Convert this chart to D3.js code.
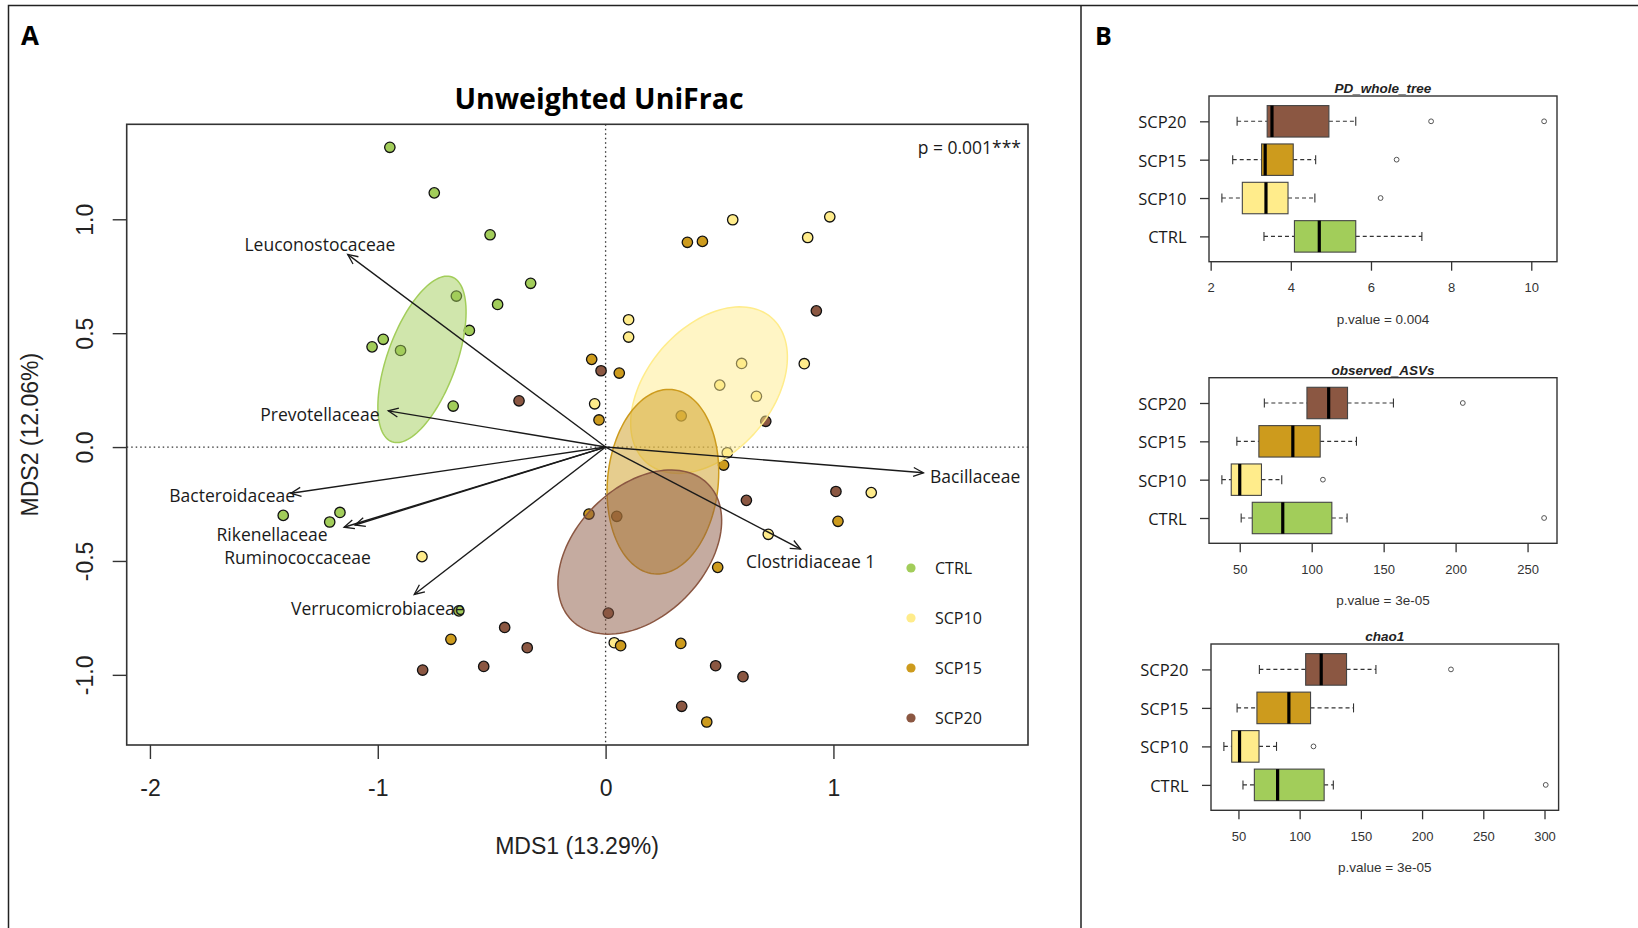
<!DOCTYPE html>
<html>
<head>
  <meta charset="utf-8">
  <title>Unweighted UniFrac</title>
  <style>
    body { margin: 0; background: #fff; }
    svg { display: block; }
  </style>
</head>
<body>
  <svg id="fig"></svg>

  <script src="https://cdn.jsdelivr.net/npm/d3@7"></script>
  <script>
    // ---------- data ----------
    const groups = ["CTRL", "SCP10", "SCP15", "SCP20"];
    const groupColors = ["#A2CD5A", "#FFEC8B", "#CD9B1D", "#8B5742"];

    // NMDS scores [MDS1, MDS2]
    const ctrlPts = [[-0.947, 1.316], [-0.752, 1.116], [-0.507, 0.932], [-0.329, 0.719], [-0.474, 0.626],
      [-0.655, 0.663], [-0.598, 0.512], [-0.976, 0.473], [-1.025, 0.440], [-0.900, 0.424],
      [-0.669, 0.180], [-1.415, -0.300], [-1.166, -0.287], [-1.211, -0.329], [-0.644, -0.719]];
    const scp10Pts = [[0.558, 0.998], [0.984, 1.011], [0.887, 0.920], [0.101, 0.559], [0.101, 0.483],
      [0.597, 0.367], [0.872, 0.366], [0.501, 0.272], [0.662, 0.223], [-0.048, 0.190],
      [-0.806, -0.481], [0.534, -0.025], [1.166, -0.200], [0.714, -0.383], [0.038, -0.859]];
    const scp15Pts = [[0.359, 0.899], [0.425, 0.903], [-0.061, 0.385], [0.060, 0.325], [-0.029, 0.119],
      [0.332, 0.137], [-0.679, -0.844], [0.518, -0.079], [-0.073, -0.294], [1.020, -0.326],
      [0.492, -0.528], [0.066, -0.872], [0.330, -0.862], [0.444, -1.207]];
    const scp20Pts = [[-0.380, 0.203], [-0.020, 0.335], [0.925, 0.598], [0.703, 0.113], [-0.443, -0.792],
      [-0.344, -0.881], [-0.535, -0.963], [-0.803, -0.979], [1.011, -0.195], [0.618, -0.234],
      [0.049, -0.304], [0.012, -0.729], [0.483, -0.960], [0.603, -1.008], [0.334, -1.138]];
    const groupPts = [ctrlPts, scp10Pts, scp15Pts, scp20Pts];

    // group ellipses: centre MDS1, centre MDS2, semi-axis a, semi-axis b, angle (deg)
    const ellipses = [[-0.806, 0.385, 0.385, 0.151, 70],
                      [0.454, 0.250, 0.420, 0.275, 49.4],
                      [0.2515, -0.152, 0.4065, 0.243, 84.4],
                      [0.150, -0.461, 0.423, 0.283, 45.2]];

    // fitted taxa vectors
    const taxa = ["Leuconostocaceae", "Prevotellaceae", "Bacteroidaceae", "Rikenellaceae",
                  "Ruminococcaceae", "Verrucomicrobiaceae", "Bacillaceae", "Clostridiaceae 1"];
    const vecMDS1 = [-1.132, -0.954, -1.381, -1.148, -1.100, -0.840, 1.395, 0.856];
    const vecMDS2 = [0.846, 0.159, -0.203, -0.352, -0.342, -0.647, -0.113, -0.448];
    const labMDS1 = [-1.254, -1.254, -1.639, -1.464, -1.352, -1.000, 1.622, 0.900];
    const labMDS2 = [0.891, 0.145, -0.211, -0.383, -0.484, -0.707, -0.127, -0.500];

    const mdsXTicks = [-2, -1, 0, 1];
    const mdsYTicks = [-1, -0.5, 0, 0.5, 1];

    // alpha diversity: [lower whisker, Q1, median, Q3, upper whisker] for CTRL, SCP10, SCP15, SCP20
    const pdStats = [[3.33, 4.09, 4.71, 5.62, 7.27], [2.28, 2.79, 3.38, 3.93, 4.60],
                     [2.55, 3.27, 3.36, 4.06, 4.62], [2.66, 3.41, 3.53, 4.95, 5.62]];
    const pdOut = [[], [6.24], [6.64], [7.50, 10.32]];
    const obsStats = [[51, 58.7, 79.9, 114, 124.6], [37.6, 44.1, 50, 65.1, 79.2],
                      [48, 63.3, 86.9, 105.9, 131.1], [67.1, 96.7, 111.8, 124.9, 156.8]];
    const obsOut = [[261.5], [107.8], [], [205]];
    const chaoStats = [[53.7, 63, 82, 120, 127.5], [38.1, 44.5, 50.9, 66.8, 81.1],
                       [48.9, 65.1, 91.2, 108.9, 144], [67.1, 104.9, 117.6, 138.3, 162.3]];
    const chaoOut = [[301], [111.3], [], [223.6]];

    const pdTicks = [2, 4, 6, 8, 10];
    const obsTicks = [50, 100, 150, 200, 250];
    const chaoTicks = [50, 100, 150, 200, 250, 300];

    // ---------- figure ----------
    const W = 1638, H = 928;
    const ARIAL = "'Liberation Sans', Arial, sans-serif";
    const SANS = "'Open Sans', sans-serif";

    const svg = d3.select("#fig").attr("width", W).attr("height", H);

    // panel frames
    svg.append("path")
      .attr("d", `M8.5,${H} V5.5 H${W} M1081,5.5 V${H}`)
      .attr("fill", "none").attr("stroke", "#222").attr("stroke-width", 1.5);

    svg.append("text").attr("x", 21).attr("y", 45).text("A")
      .attr("font-family", SANS).attr("font-weight", 700).attr("font-size", 26);
    svg.append("text").attr("x", 1095).attr("y", 45).text("B")
      .attr("font-family", SANS).attr("font-weight", 700).attr("font-size", 25);

    // ---------- panel A: ordination ----------
    const ordination = (function () {
      const left = 126.7, right = 1028, top = 124.3, bottom = 745;
      const x = d3.scaleLinear().domain([-2.102, 1.854]).range([left, right]);
      const y = d3.scaleLinear().domain([-1.308, 1.417]).range([bottom, top]);
      let g;

      function draw() {
        g = svg.append("g");

        // zero lines
        g.append("line").attr("x1", x(0)).attr("x2", x(0)).attr("y1", top).attr("y2", bottom)
          .attr("stroke", "#333").attr("stroke-width", 1.3).attr("stroke-dasharray", "1.5,3");
        g.append("line").attr("x1", left).attr("x2", right).attr("y1", y(0)).attr("y2", y(0))
          .attr("stroke", "#333").attr("stroke-width", 1.3).attr("stroke-dasharray", "1.5,3");

        // points
        groups.forEach((grp, i) => {
          g.append("g").selectAll("circle")
            .data(groupPts[i])
            .join("circle")
            .attr("cx", d => x(d[0]))
            .attr("cy", d => y(d[1]))
            .attr("r", 5.2)
            .attr("fill", groupColors[i])
            .attr("stroke", "#111")
            .attr("stroke-width", 1.3);
        });

        // ellipses on top of the points
        const ell = d3.line().x(d => x(d[0])).y(d => y(d[1])).curve(d3.curveLinearClosed);
        ellipses.forEach((e, i) => {
          const [cx, cy, a, b, deg] = e;
          const t = deg * Math.PI / 180;
          const pts = d3.range(0, 360, 3).map(k => {
            const u = k * Math.PI / 180;
            return [cx + a * Math.cos(u) * Math.cos(t) - b * Math.sin(u) * Math.sin(t),
                    cy + a * Math.cos(u) * Math.sin(t) + b * Math.sin(u) * Math.cos(t)];
          });
          g.append("path").attr("d", ell(pts))
            .attr("fill", groupColors[i]).attr("fill-opacity", 0.5)
            .attr("stroke", groupColors[i]).attr("stroke-width", 1.5);
        });

        // taxa vectors
        svg.append("defs").append("marker")
          .attr("id", "head").attr("viewBox", "-12 -6 14 12")
          .attr("markerUnits", "userSpaceOnUse")
          .attr("markerWidth", 14).attr("markerHeight", 12)
          .attr("refX", 0).attr("refY", 0).attr("orient", "auto")
          .append("path").attr("d", "M-10,-4.5 L0,0 L-10,4.5")
          .attr("fill", "none").attr("stroke", "#1a1a1a").attr("stroke-width", 1.3);

        g.append("g").selectAll("line")
          .data(taxa)
          .join("line")
          .attr("x1", x(0)).attr("y1", y(0))
          .attr("x2", (d, i) => x(vecMDS1[i]))
          .attr("y2", (d, i) => y(vecMDS2[i]))
          .attr("stroke", "#1a1a1a").attr("stroke-width", 1.4)
          .attr("marker-end", "url(#head)");

        g.append("g").selectAll("text")
          .data(taxa)
          .join("text")
          .attr("x", (d, i) => x(labMDS1[i]))
          .attr("y", (d, i) => y(labMDS2[i]))
          .attr("text-anchor", "middle")
          .attr("dominant-baseline", "central")
          .attr("font-family", SANS).attr("font-size", 17.5).attr("fill", "#1a1a1a")
          .text(d => d);

        // plot box
        g.append("rect").attr("x", left).attr("y", top)
          .attr("width", right - left).attr("height", bottom - top)
          .attr("fill", "none").attr("stroke", "#333").attr("stroke-width", 1.6);

        // axes
        const xAxis = g.append("g").attr("transform", `translate(0,${bottom})`)
          .call(d3.axisBottom(x).tickValues(mdsXTicks).tickSize(14).tickFormat(d => String(d)));
        const yAxis = g.append("g").attr("transform", `translate(${left},0)`)
          .call(d3.axisLeft(y).tickValues(mdsYTicks).tickSize(14).tickFormat(d => d.toFixed(1)));
        [xAxis, yAxis].forEach(a => {
          a.select(".domain").remove();
          a.selectAll("line").attr("stroke", "#333").attr("stroke-width", 1.4);
          a.selectAll("text").attr("font-family", ARIAL).attr("font-size", 23).attr("fill", "#222");
        });
        xAxis.selectAll("text").attr("y", 43).attr("dy", null).attr("dominant-baseline", "central");
        yAxis.selectAll("text")
          .attr("x", 0).attr("y", -42).attr("dy", null)
          .attr("transform", "rotate(-90)")
          .attr("text-anchor", "middle").attr("dominant-baseline", "central");

        g.append("text").attr("x", 577).attr("y", 846)
          .attr("text-anchor", "middle").attr("dominant-baseline", "central")
          .attr("font-family", ARIAL).attr("font-size", 23).attr("fill", "#222")
          .text("MDS1 (13.29%)");
        g.append("text")
          .attr("transform", `translate(30,${(top + bottom) / 2}) rotate(-90)`)
          .attr("text-anchor", "middle").attr("dominant-baseline", "central")
          .attr("font-family", ARIAL).attr("font-size", 23).attr("fill", "#222")
          .text("MDS2 (12.06%)");

        // title and test result
        g.append("text").attr("x", 599).attr("y", 109)
          .attr("text-anchor", "middle")
          .attr("font-family", SANS).attr("font-weight", 700).attr("font-size", 28.5)
          .text("Unweighted UniFrac");
        g.append("text").attr("x", 1021).attr("y", 147)
          .attr("text-anchor", "end").attr("dominant-baseline", "central")
          .attr("font-family", SANS).attr("font-size", 17.5).attr("fill", "#1a1a1a")
          .text("p = 0.001***");

        // legend
        const legend = g.append("g").selectAll("g")
          .data(groups)
          .join("g")
          .attr("transform", (d, i) => `translate(911,${568 + i * 50})`);
        legend.append("circle").attr("r", 4.6).attr("fill", (d, i) => groupColors[i]);
        legend.append("text").attr("x", 24).attr("dominant-baseline", "central")
          .attr("font-family", SANS).attr("font-size", 16).attr("fill", "#1a1a1a")
          .text(d => d);
      }

      return { draw };
    })();

    // ---------- panel B: alpha diversity boxplots ----------
    function boxplot(cfg) {
      const { title, stats, outliers, ticks, pval, left, right, top, bottom } = cfg;
      const g = svg.append("g");

      const all = stats.flat().concat(outliers.flat());
      const [lo, hi] = d3.extent(all);
      const pad = (hi - lo) * 0.04;
      const x = d3.scaleLinear().domain([lo - pad, hi + pad]).range([left, right]);
      const y = d3.scaleLinear().domain([0.34, 4.66]).range([bottom, top]);
      const half = 0.41;

      stats.forEach((s, i) => {
        const pos = i + 1;
        const yc = y(pos);
        const color = groupColors[i];
        // whiskers
        g.append("line").attr("x1", x(s[0])).attr("x2", x(s[1])).attr("y1", yc).attr("y2", yc)
          .attr("stroke", "#333").attr("stroke-width", 1.1).attr("stroke-dasharray", "4,3");
        g.append("line").attr("x1", x(s[3])).attr("x2", x(s[4])).attr("y1", yc).attr("y2", yc)
          .attr("stroke", "#333").attr("stroke-width", 1.1).attr("stroke-dasharray", "4,3");
        [s[0], s[4]].forEach(v => {
          g.append("line").attr("x1", x(v)).attr("x2", x(v)).attr("y1", yc - 4.5).attr("y2", yc + 4.5)
            .attr("stroke", "#333").attr("stroke-width", 1.1);
        });
        // box
        g.append("rect")
          .attr("x", x(s[1])).attr("width", x(s[3]) - x(s[1]))
          .attr("y", y(pos + half)).attr("height", y(pos - half) - y(pos + half))
          .attr("fill", color).attr("stroke", "#444").attr("stroke-width", 1.1);
        // median
        g.append("line").attr("x1", x(s[2])).attr("x2", x(s[2]))
          .attr("y1", y(pos + half)).attr("y2", y(pos - half))
          .attr("stroke", "#000").attr("stroke-width", 3.2);
        // outliers
        g.append("g").selectAll("circle")
          .data(outliers[i])
          .join("circle")
          .attr("cx", d => x(d)).attr("cy", yc).attr("r", 2.4)
          .attr("fill", "none").attr("stroke", "#555").attr("stroke-width", 1);
      });

      g.append("rect").attr("x", left).attr("y", top)
        .attr("width", right - left).attr("height", bottom - top)
        .attr("fill", "none").attr("stroke", "#333").attr("stroke-width", 1.4);

      const xAxis = g.append("g").attr("transform", `translate(0,${bottom})`)
        .call(d3.axisBottom(x).tickValues(ticks).tickSize(9).tickFormat(d => String(d)));
      const yAxis = g.append("g").attr("transform", `translate(${left},0)`)
        .call(d3.axisLeft(y).tickValues([1, 2, 3, 4]).tickSize(9).tickFormat(d => groups[d - 1]));
      [xAxis, yAxis].forEach(a => {
        a.select(".domain").remove();
        a.selectAll("line").attr("stroke", "#333").attr("stroke-width", 1.3);
      });
      xAxis.selectAll("text")
        .attr("y", 26).attr("dy", null).attr("dominant-baseline", "central")
        .attr("font-family", ARIAL).attr("font-size", 13).attr("fill", "#333");
      yAxis.selectAll("text")
        .attr("x", -22.5).attr("dy", null).attr("dominant-baseline", "central")
        .attr("font-family", SANS).attr("font-size", 16.5).attr("fill", "#1a1a1a");

      g.append("text").attr("x", (left + right) / 2).attr("y", top - 3)
        .attr("text-anchor", "middle")
        .attr("font-family", ARIAL).attr("font-weight", 700).attr("font-style", "italic")
        .attr("font-size", 13.5).attr("fill", "#222")
        .text(title);
      g.append("text").attr("x", (left + right) / 2).attr("y", bottom + 57.5)
        .attr("text-anchor", "middle").attr("dominant-baseline", "central")
        .attr("font-family", ARIAL).attr("font-size", 13.5).attr("fill", "#333")
        .text(pval);
    }

    ordination.draw();
    boxplot({ title: "PD_whole_tree", stats: pdStats, outliers: pdOut, ticks: pdTicks,
              pval: "p.value = 0.004", left: 1209, right: 1557, top: 96, bottom: 261.7 });
    boxplot({ title: "observed_ASVs", stats: obsStats, outliers: obsOut, ticks: obsTicks,
              pval: "p.value = 3e-05", left: 1209, right: 1557, top: 377.7, bottom: 543.3 });
    boxplot({ title: "chao1", stats: chaoStats, outliers: chaoOut, ticks: chaoTicks,
              pval: "p.value = 3e-05", left: 1211, right: 1558.6, top: 644, bottom: 810.3 });
  </script>
</body>
</html>
